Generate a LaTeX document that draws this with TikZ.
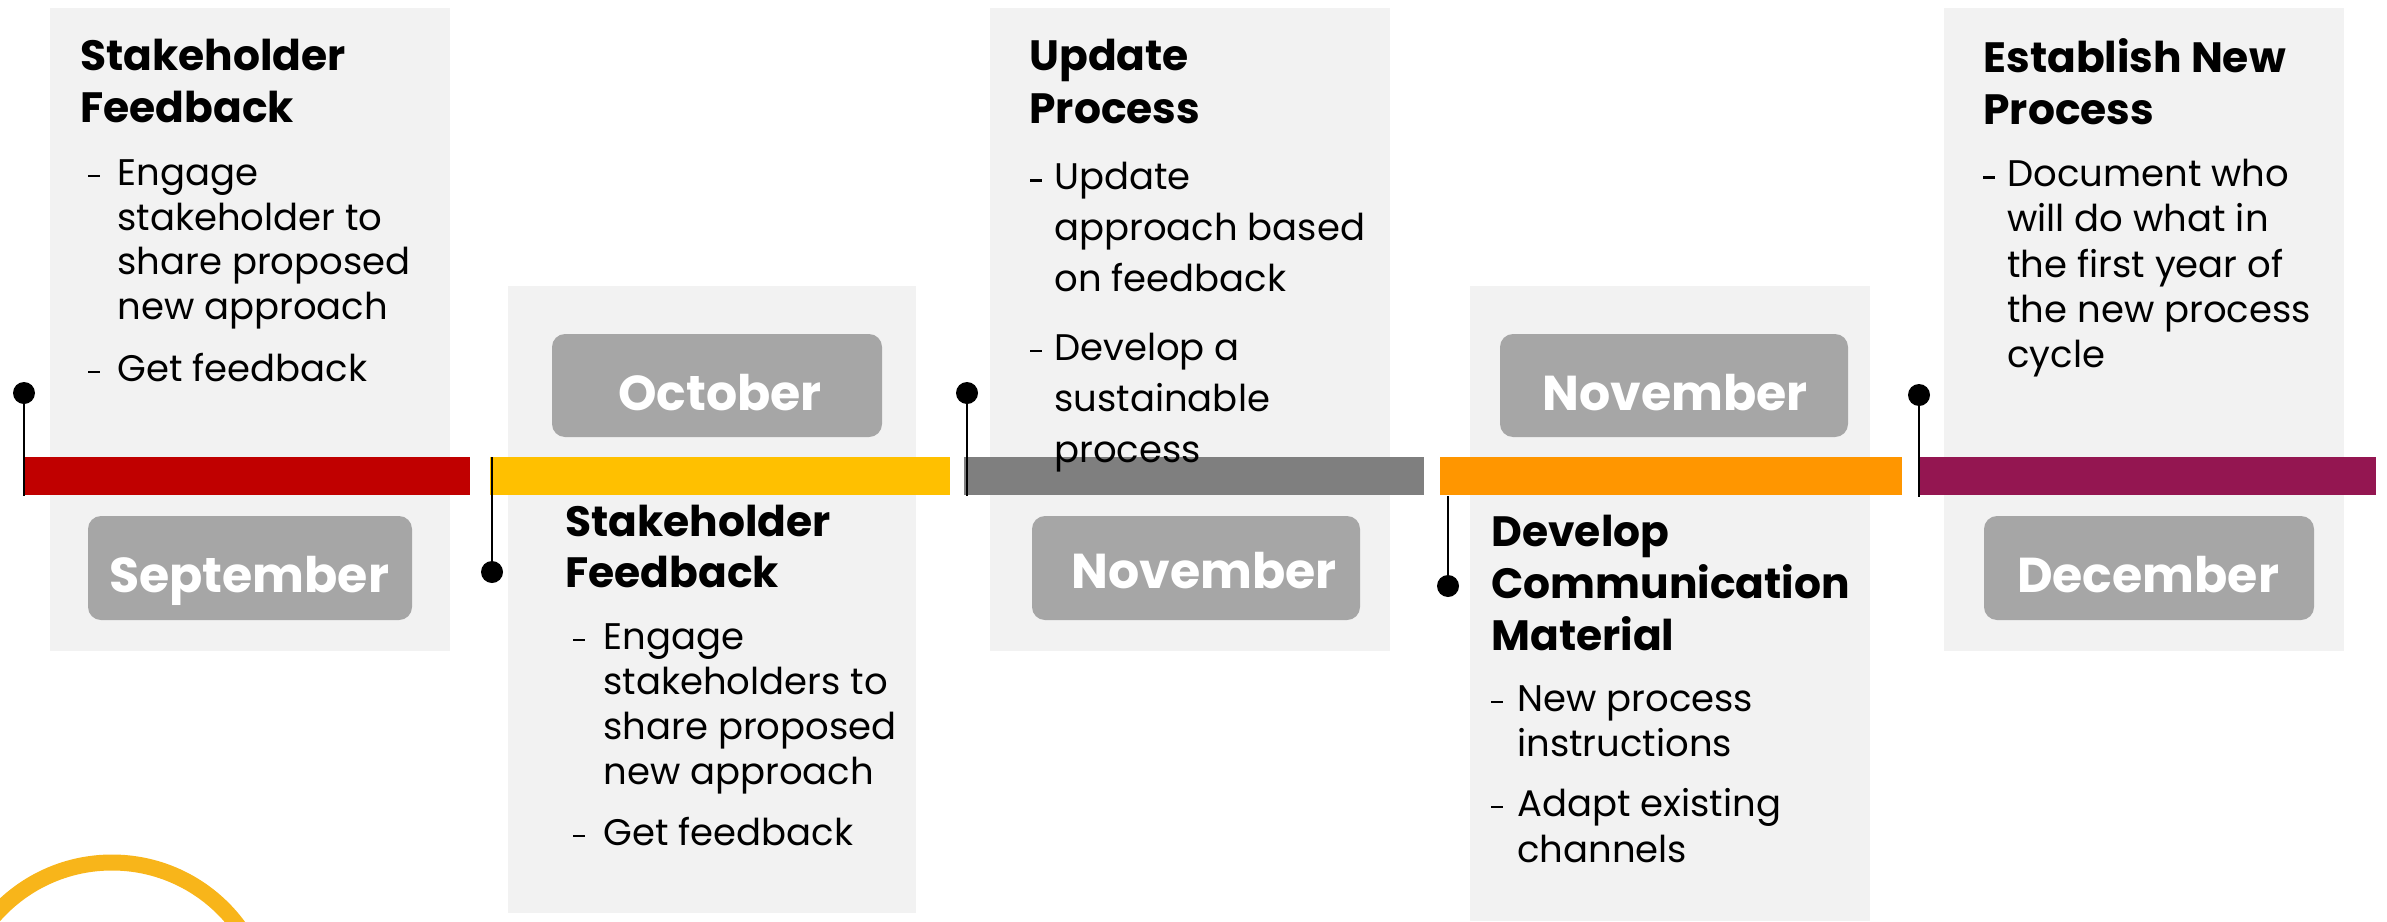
\documentclass[tikz,border=0pt]{standalone}
\usepackage{fontspec}
\setmainfont{Poppins}
\definecolor{panelgray}{HTML}{F2F2F2}
\definecolor{pillgray}{HTML}{A6A6A6}
\definecolor{barred}{HTML}{C00000}
\definecolor{baryellow}{HTML}{FFC000}
\definecolor{bargray}{HTML}{7F7F7F}
\definecolor{barorange}{HTML}{FF9600}
\definecolor{barmaroon}{HTML}{941651}
\definecolor{arcyellow}{HTML}{F8B51A}
\newcommand{\bulletdash}{\rule[3.8pt]{6pt}{1.3pt}}
\begin{document}
\begin{tikzpicture}[x=0.5pt,y=-0.5pt,
  panel/.style={fill=panelgray},
  pill/.style={fill=pillgray, rounded corners=6.5pt},
  pinline/.style={draw=black, line width=1.3pt},
  pindot/.style={circle, fill=black, inner sep=0pt, minimum size=11pt},
  titletext/.style={anchor=base west, inner sep=0pt, font=\bfseries\fontsize{21.2}{#1}\selectfont},
  bodytext/.style={anchor=base west, inner sep=0pt, font=\fontsize{18.5}{#1}\selectfont},
  dashtext/.style={anchor=base west, inner sep=0pt, font=\fontsize{18.5}{22}\selectfont},
  monthtext/.style={anchor=base, inner sep=0pt, text=white, font=\bfseries\fontsize{24.5}{28}\selectfont}]
\useasboundingbox (0,0) rectangle (2387,921);
\clip (0,0) rectangle (2387,921);

% decorative arc
\draw[arcyellow, line width=8pt] (112,1019.5) circle[radius=157];

% panels
\path[panel] (50,8) rectangle (450,651);
\path[panel] (508,286) rectangle (916,913);
\path[panel] (990,8) rectangle (1390,651);
\path[panel] (1470,286) rectangle (1870,921);
\path[panel] (1944,8) rectangle (2344,651);

% month pills
\path[pill] (88,516) rectangle (412,620);
\path[pill] (552,334) rectangle (882,437);
\path[pill] (1032,516) rectangle (1360,620);
\path[pill] (1500,334) rectangle (1848,437);
\path[pill] (1984,516) rectangle (2314,620);
\node[monthtext] (m1) at (249,592) {September};
\node[monthtext] (m2) at (720,410) {October};
\node[monthtext] (m3) at (1204,588) {November};
\node[monthtext] (m4) at (1675,410) {November};
\node[monthtext] (m5) at (2148,592) {December};

% timeline bars
\fill[barred] (25,457) rectangle (470,495);
\fill[baryellow] (490,457) rectangle (950,495);
\fill[bargray] (964,457) rectangle (1424,495);
\fill[barorange] (1440,457) rectangle (1902,495);
\fill[barmaroon] (1919,457) rectangle (2376,495);

% pins
\node[pindot] (d1) at (24,393) {};
\node[pindot] (d2) at (492,572) {};
\node[pindot] (d3) at (967,393) {};
\node[pindot] (d4) at (1448,586) {};
\node[pindot] (d5) at (1919,395) {};
\coordinate (e1) at (24,496);
\coordinate (e2) at (492,457);
\coordinate (e3) at (967,496);
\coordinate (e4) at (1448,496);
\coordinate (e5) at (1919,497);
\draw[pinline] (d1.center) -- (e1);
\draw[pinline] (d2.center) -- (e2);
\draw[pinline] (d3.center) -- (e3);
\draw[pinline] (d4.center) -- (e4);
\draw[pinline] (d5.center) -- (e5);

% box 1
\node[titletext=26.25pt] (t1) at (80,70) {\vtop{\hbox{Stakeholder}\hbox{Feedback}}};
\node[dashtext] (b1a) at (88,185) {\bulletdash};
\node[bodytext=22.3pt] (b1at) at (117,185.5) {\vtop{\hbox{Engage}\hbox{stakeholder to}\hbox{share proposed}\hbox{new approach}}};
\node[dashtext] (b1b) at (88,381) {\bulletdash};
\node[bodytext=22.3pt] (b1bt) at (117,381) {Get feedback};

% box 2
\node[titletext=25.75pt] (t2) at (565,536) {\vtop{\hbox{Stakeholder}\hbox{Feedback}}};
\node[dashtext] (b2a) at (573,649) {\bulletdash};
\node[bodytext=22.5pt] (b2at) at (603,649) {\vtop{\hbox{Engage}\hbox{stakeholders to}\hbox{share proposed}\hbox{new approach}}};
\node[dashtext] (b2b) at (573,845) {\bulletdash};
\node[bodytext=22.5pt] (b2bt) at (603,845) {Get feedback};

% box 3
\node[titletext=26.5pt] (t3) at (1029,70.5) {\vtop{\hbox{Update}\hbox{Process}}};
\node[dashtext] (b3a) at (1030,189.5) {\bulletdash};
\node[bodytext=25.4pt] (b3at) at (1054,189.5) {\vtop{\hbox{Update}\hbox{approach based}\hbox{on feedback}}};
\node[dashtext] (b3b) at (1030,360) {\bulletdash};
\node[bodytext=25.5pt] (b3bt) at (1054,360) {\vtop{\hbox{Develop a}\hbox{sustainable}\hbox{process}}};

% box 4
\node[titletext=26pt] (t4) at (1491,546) {\vtop{\hbox{Develop}\hbox{Communication}\hbox{Material}}};
\node[dashtext] (b4a) at (1491,711) {\bulletdash};
\node[bodytext=22.5pt] (b4at) at (1517,711) {\vtop{\hbox{New process}\hbox{instructions}}};
\node[dashtext] (b4b) at (1491,816) {\bulletdash};
\node[bodytext=23pt] (b4bt) at (1517,816) {\vtop{\hbox{Adapt existing}\hbox{channels}}};

% box 5
\node[titletext=26.25pt] (t5) at (1983,72) {\vtop{\hbox{Establish New}\hbox{Process}}};
\node[dashtext] (b5a) at (1983,186.5) {\bulletdash};
\node[bodytext=22.65pt] (b5at) at (2007,186.5) {\vtop{\hbox{Document who}\hbox{will do what in}\hbox{the first year of}\hbox{the new process}\hbox{cycle}}};
\end{tikzpicture}
\end{document}
